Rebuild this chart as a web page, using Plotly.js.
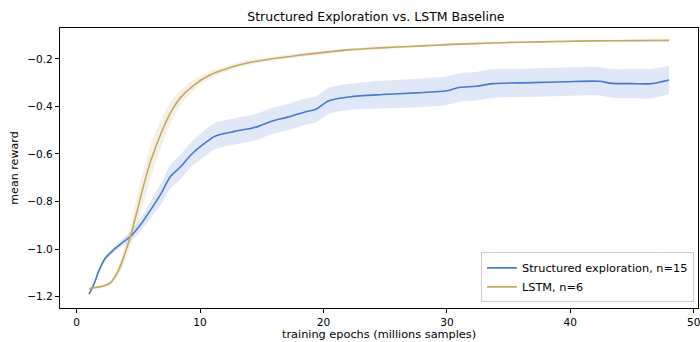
<!DOCTYPE html>
<html>
<head>
<meta charset="utf-8">
<script src="https://cdn.plot.ly/plotly-3.0.1.min.js"></script>
<style>html,body{margin:0;padding:0;background:#fff;}#chart{width:700px;height:342px;}</style>
</head>
<body>
<div id="chart"></div>
<script>
// Structured exploration (n=15): x, mean, band half-width
const blueX = [1.0, 1.4, 1.8, 2.3, 3.0, 3.7, 4.4, 5.2, 6.0, 6.8, 7.6, 8.4, 9.3, 10.3, 11.2, 12.8, 14.6, 15.8, 17.1, 18.5, 19.4, 20.4, 22.1, 24.8, 27.5, 30.0, 31.0, 32.4, 33.7, 36.9, 39.6, 42.3, 43.4, 45.0, 46.6, 48.0];
const blueY = [-1.190, -1.148, -1.092, -1.040, -1.003, -0.973, -0.945, -0.896, -0.835, -0.770, -0.695, -0.655, -0.602, -0.558, -0.525, -0.505, -0.486, -0.462, -0.445, -0.423, -0.412, -0.377, -0.360, -0.350, -0.343, -0.334, -0.320, -0.315, -0.304, -0.300, -0.296, -0.294, -0.303, -0.304, -0.304, -0.289];
const blueSpread = [0.005, 0.006, 0.008, 0.010, 0.012, 0.015, 0.020, 0.028, 0.035, 0.045, 0.050, 0.052, 0.052, 0.055, 0.055, 0.055, 0.055, 0.055, 0.055, 0.055, 0.055, 0.055, 0.055, 0.058, 0.060, 0.060, 0.060, 0.060, 0.060, 0.060, 0.060, 0.060, 0.060, 0.062, 0.062, 0.060];

// LSTM (n=6)
const lstmX = [1.0, 1.5, 2.2, 2.75, 3.3, 3.8, 4.36, 4.9, 5.45, 6.0, 6.8, 7.6, 8.4, 9.5, 10.8, 12.2, 14.0, 16.0, 18.0, 20.0, 22.0, 24.0, 26.0, 28.0, 30.0, 33.0, 36.0, 39.0, 42.0, 45.0, 48.0];
const lstmY = [-1.167, -1.162, -1.155, -1.141, -1.099, -1.036, -0.945, -0.840, -0.728, -0.630, -0.518, -0.427, -0.364, -0.310, -0.268, -0.240, -0.215, -0.198, -0.185, -0.173, -0.162, -0.155, -0.150, -0.145, -0.140, -0.134, -0.130, -0.127, -0.124, -0.123, -0.122];
const lstmSpread = [0.006, 0.006, 0.007, 0.010, 0.018, 0.030, 0.045, 0.060, 0.070, 0.070, 0.060, 0.045, 0.032, 0.022, 0.016, 0.012, 0.010, 0.009, 0.008, 0.007, 0.006, 0.006, 0.005, 0.005, 0.005, 0.005, 0.004, 0.004, 0.004, 0.004, 0.004];

const seriesNames = ['Structured exploration, n=15', 'LSTM, n=6'];
const xTicks = [0, 10, 20, 30, 40, 50];
const yTicks = [-1.2, -1.0, -0.8, -0.6, -0.4, -0.2];
const xTitle = 'training epochs (millions samples)';

const BLUE = '#4878d0', GOLD = '#c4a862';
const FONT = 'DejaVu Sans, sans-serif';

function band(xs, ys, sp, fill) {
  const lo = ys.map((v, i) => v - sp[i]);
  const hi = ys.map((v, i) => v + sp[i]);
  return [
    {x: xs, y: lo, mode: 'lines', line: {width: 0, shape: 'spline', smoothing: 0.8}, showlegend: false, hoverinfo: 'skip', type: 'scatter'},
    {x: xs, y: hi, mode: 'lines', line: {width: 0, shape: 'spline', smoothing: 0.8}, fill: 'tonexty', fillcolor: fill, showlegend: false, hoverinfo: 'skip', type: 'scatter'}
  ];
}

const data = [
  ...band(blueX, blueY, blueSpread, 'rgba(72,120,208,0.17)'),
  ...band(lstmX, lstmY, lstmSpread, 'rgba(196,168,98,0.17)'),
  {x: blueX, y: blueY, name: seriesNames[0], mode: 'lines', type: 'scatter', line: {color: BLUE, width: 1.6, shape: 'spline', smoothing: 0.8}},
  {x: lstmX, y: lstmY, name: seriesNames[1], mode: 'lines', type: 'scatter', line: {color: GOLD, width: 1.6, shape: 'spline', smoothing: 0.8}}
];

const axisCommon = {
  showline: true, linecolor: '#000', linewidth: 1, mirror: true,
  ticks: 'outside', ticklen: 4, tickwidth: 1, tickcolor: '#000',
  showgrid: false, zeroline: false, ticklabeloverflow: 'allow',
  tickfont: {family: FONT, size: 10.6, color: '#000'}
};

const layout = {
  width: 700, height: 342,
  margin: {l: 60, r: 2, t: 28, b: 34},
  paper_bgcolor: '#fff', plot_bgcolor: '#fff',
  font: {family: FONT, color: '#000'},
  title: {text: 'Structured Exploration vs. LSTM Baseline', font: {family: FONT, size: 12.5, color: '#000'},
          x: 0.537, xanchor: 'center', y: 0.95, yanchor: 'middle', xref: 'container', yref: 'container'},
  xaxis: Object.assign({}, axisCommon, {
    range: [-1.35, 50.35], tickvals: xTicks, ticktext: xTicks.map(String),
    automargin: false
  }),
  yaxis: Object.assign({}, axisCommon, {
    range: [-1.248, -0.070], tickvals: yTicks, ticktext: yTicks.map(v => '\u2212' + Math.abs(v).toFixed(1)),
    title: {text: 'mean reward', font: {family: FONT, size: 11.1, color: '#000'}, standoff: 6},
    automargin: false
  }),
  annotations: [{
    text: xTitle, xref: 'paper', yref: 'paper', x: 0.5, y: -0.093, xanchor: 'center', yanchor: 'middle',
    showarrow: false, font: {family: FONT, size: 11.3, color: '#000'}
  }],
  legend: {
    x: 0.9937, xanchor: 'right', y: 0.02, yanchor: 'bottom', traceorder: 'normal',
    bgcolor: 'rgba(255,255,255,0.8)', bordercolor: '#cccccc', borderwidth: 1,
    font: {family: FONT, size: 11.3, color: '#000'}, itemwidth: 30, tracegroupgap: 0
  },
  showlegend: true
};

Plotly.newPlot('chart', data, layout, {displayModeBar: false, staticPlot: true});
</script>
</body>
</html>
